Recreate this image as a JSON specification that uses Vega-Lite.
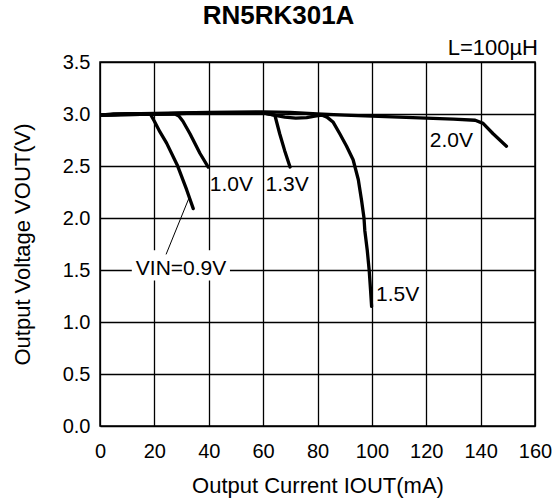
{
  "$schema": "https://vega.github.io/schema/vega-lite/v6.json",
  "width": 435,
  "height": 364,
  "autosize": {"type": "none"},
  "padding": {"left": 100, "top": 62, "right": 21, "bottom": 76},
  "background": "white",
  "title": {
    "text": "RN5RK301A",
    "font": "Liberation Sans",
    "fontSize": 26,
    "fontWeight": "bold",
    "color": "black",
    "anchor": "middle",
    "frame": "group",
    "dx": -39,
    "offset": 8
  },
  "config": {
    "view": {"stroke": "black", "strokeWidth": 1.5},
    "font": "Liberation Sans",
    "axis": {
      "grid": true,
      "gridColor": "black",
      "gridOpacity": 1,
      "gridWidth": 1.3,
      "domain": false,
      "ticks": false,
      "labelFlush": false,
      "labelOverlap": false,
      "labelFont": "Liberation Sans",
      "labelFontSize": 20,
      "labelColor": "black",
      "titleFont": "Liberation Sans",
      "titleFontSize": 22,
      "titleFontWeight": "normal",
      "titleColor": "black"
    }
  },
  "datasets": {
    "curves": [
      {"s": "0.9", "o": 1, "x": 0, "y": 2.99},
      {"s": "0.9", "o": 2, "x": 5, "y": 3.0},
      {"s": "0.9", "o": 3, "x": 12, "y": 3.0},
      {"s": "0.9", "o": 4, "x": 18.5, "y": 3.0},
      {"s": "0.9", "o": 5, "x": 20, "y": 2.93},
      {"s": "0.9", "o": 6, "x": 22, "y": 2.83},
      {"s": "0.9", "o": 7, "x": 24.5, "y": 2.72},
      {"s": "0.9", "o": 8, "x": 28.4, "y": 2.51},
      {"s": "0.9", "o": 9, "x": 31.9, "y": 2.27},
      {"s": "0.9", "o": 10, "x": 34.3, "y": 2.09},
      {"s": "1.0", "o": 1, "x": 0, "y": 2.99},
      {"s": "1.0", "o": 2, "x": 10, "y": 3.0},
      {"s": "1.0", "o": 3, "x": 20, "y": 3.0},
      {"s": "1.0", "o": 4, "x": 27.6, "y": 3.0},
      {"s": "1.0", "o": 5, "x": 29, "y": 2.98},
      {"s": "1.0", "o": 6, "x": 30.5, "y": 2.93},
      {"s": "1.0", "o": 7, "x": 33.1, "y": 2.81},
      {"s": "1.0", "o": 8, "x": 36.8, "y": 2.62},
      {"s": "1.0", "o": 9, "x": 39.8, "y": 2.49},
      {"s": "1.3", "o": 1, "x": 0, "y": 2.99},
      {"s": "1.3", "o": 2, "x": 20, "y": 3.0},
      {"s": "1.3", "o": 3, "x": 40, "y": 3.01},
      {"s": "1.3", "o": 4, "x": 60, "y": 3.01},
      {"s": "1.3", "o": 5, "x": 64.3, "y": 2.99},
      {"s": "1.3", "o": 6, "x": 64.8, "y": 2.94},
      {"s": "1.3", "o": 7, "x": 66.1, "y": 2.81},
      {"s": "1.3", "o": 8, "x": 67.9, "y": 2.65},
      {"s": "1.3", "o": 9, "x": 69.9, "y": 2.49},
      {"s": "1.5", "o": 1, "x": 0, "y": 2.99},
      {"s": "1.5", "o": 2, "x": 20, "y": 3.0},
      {"s": "1.5", "o": 3, "x": 40, "y": 3.01},
      {"s": "1.5", "o": 4, "x": 60, "y": 3.01},
      {"s": "1.5", "o": 5, "x": 64, "y": 2.99},
      {"s": "1.5", "o": 6, "x": 68, "y": 2.97},
      {"s": "1.5", "o": 7, "x": 72, "y": 2.96},
      {"s": "1.5", "o": 8, "x": 76, "y": 2.965},
      {"s": "1.5", "o": 9, "x": 79, "y": 2.98},
      {"s": "1.5", "o": 10, "x": 81.5, "y": 2.99},
      {"s": "1.5", "o": 11, "x": 83.5, "y": 2.97},
      {"s": "1.5", "o": 12, "x": 85.8, "y": 2.92},
      {"s": "1.5", "o": 13, "x": 88.2, "y": 2.81},
      {"s": "1.5", "o": 14, "x": 90.7, "y": 2.69},
      {"s": "1.5", "o": 15, "x": 93.1, "y": 2.56},
      {"s": "1.5", "o": 16, "x": 95, "y": 2.37},
      {"s": "1.5", "o": 17, "x": 96.2, "y": 2.17},
      {"s": "1.5", "o": 18, "x": 97.1, "y": 2.0},
      {"s": "1.5", "o": 19, "x": 97.4, "y": 1.88},
      {"s": "1.5", "o": 20, "x": 98.3, "y": 1.69},
      {"s": "1.5", "o": 21, "x": 99.0, "y": 1.5},
      {"s": "1.5", "o": 22, "x": 99.5, "y": 1.31},
      {"s": "1.5", "o": 23, "x": 99.9, "y": 1.15},
      {"s": "2.0", "o": 1, "x": 0, "y": 2.99},
      {"s": "2.0", "o": 2, "x": 10, "y": 3.0},
      {"s": "2.0", "o": 3, "x": 20, "y": 3.005},
      {"s": "2.0", "o": 4, "x": 40, "y": 3.015},
      {"s": "2.0", "o": 5, "x": 60, "y": 3.02},
      {"s": "2.0", "o": 6, "x": 70, "y": 3.015},
      {"s": "2.0", "o": 7, "x": 80, "y": 3.0},
      {"s": "2.0", "o": 8, "x": 90, "y": 2.99},
      {"s": "2.0", "o": 9, "x": 100, "y": 2.98},
      {"s": "2.0", "o": 10, "x": 110, "y": 2.97},
      {"s": "2.0", "o": 11, "x": 120, "y": 2.96},
      {"s": "2.0", "o": 12, "x": 130, "y": 2.95},
      {"s": "2.0", "o": 13, "x": 138, "y": 2.94},
      {"s": "2.0", "o": 14, "x": 140.9, "y": 2.91},
      {"s": "2.0", "o": 15, "x": 144.6, "y": 2.81},
      {"s": "2.0", "o": 16, "x": 149.5, "y": 2.69}
    ],
    "labels": [
      {"t": "1.0V", "x": 40.4, "y": 2.32},
      {"t": "1.3V", "x": 60.9, "y": 2.32},
      {"t": "2.0V", "x": 121.3, "y": 2.74},
      {"t": "1.5V", "x": 101.5, "y": 1.26}
    ]
  },
  "layer": [
    {
      "data": {"name": "curves"},
      "mark": {"type": "line", "color": "black", "strokeWidth": 3.3, "strokeCap": "round", "strokeJoin": "round", "clip": true},
      "encoding": {
        "x": {
          "field": "x", "type": "quantitative",
          "scale": {"domain": [0, 160], "nice": false, "zero": false},
          "axis": {"values": [0, 20, 40, 60, 80, 100, 120, 140, 160], "title": "Output Current IOUT(mA)", "labelPadding": 15, "titlePadding": 14}
        },
        "y": {
          "field": "y", "type": "quantitative",
          "scale": {"domain": [0, 3.5], "nice": false, "zero": false},
          "axis": {"values": [0, 0.5, 1, 1.5, 2, 2.5, 3, 3.5], "format": ".1f", "title": "Output Voltage VOUT(V)", "labelPadding": 10, "titlePadding": 28}
        },
        "detail": {"field": "s", "type": "nominal"},
        "order": {"field": "o", "type": "quantitative"}
      }
    },
    {
      "data": {"values": [{"x": 11.7, "x2": 47.8, "y": 1.40, "y2": 1.69}]},
      "mark": {"type": "rect", "color": "white"},
      "encoding": {
        "x": {"field": "x", "type": "quantitative"},
        "x2": {"field": "x2"},
        "y": {"field": "y", "type": "quantitative"},
        "y2": {"field": "y2"}
      }
    },
    {
      "data": {"values": [{"x": 24.3, "y": 1.65, "x2": 32.7, "y2": 2.19}]},
      "mark": {"type": "rule", "color": "black", "strokeWidth": 1},
      "encoding": {
        "x": {"field": "x", "type": "quantitative"},
        "x2": {"field": "x2"},
        "y": {"field": "y", "type": "quantitative"},
        "y2": {"field": "y2"}
      }
    },
    {
      "data": {"values": [{"t": "VIN=0.9V", "x": 29.8, "y": 1.51}]},
      "mark": {"type": "text", "font": "Liberation Sans", "fontSize": 21, "align": "center", "baseline": "middle", "color": "black"},
      "encoding": {
        "x": {"field": "x", "type": "quantitative"},
        "y": {"field": "y", "type": "quantitative"},
        "text": {"field": "t"}
      }
    },
    {
      "data": {"name": "labels"},
      "mark": {"type": "text", "font": "Liberation Sans", "fontSize": 21, "align": "left", "baseline": "middle", "color": "black"},
      "encoding": {
        "x": {"field": "x", "type": "quantitative"},
        "y": {"field": "y", "type": "quantitative"},
        "text": {"field": "t"}
      }
    },
    {
      "data": {"values": [{"t": "L=100µH", "x": 160, "y": 3.5}]},
      "mark": {"type": "text", "font": "Liberation Sans", "fontSize": 22, "align": "right", "baseline": "alphabetic", "dx": 3, "dy": -7, "color": "black"},
      "encoding": {
        "x": {"field": "x", "type": "quantitative"},
        "y": {"field": "y", "type": "quantitative"},
        "text": {"field": "t"}
      }
    }
  ]
}
